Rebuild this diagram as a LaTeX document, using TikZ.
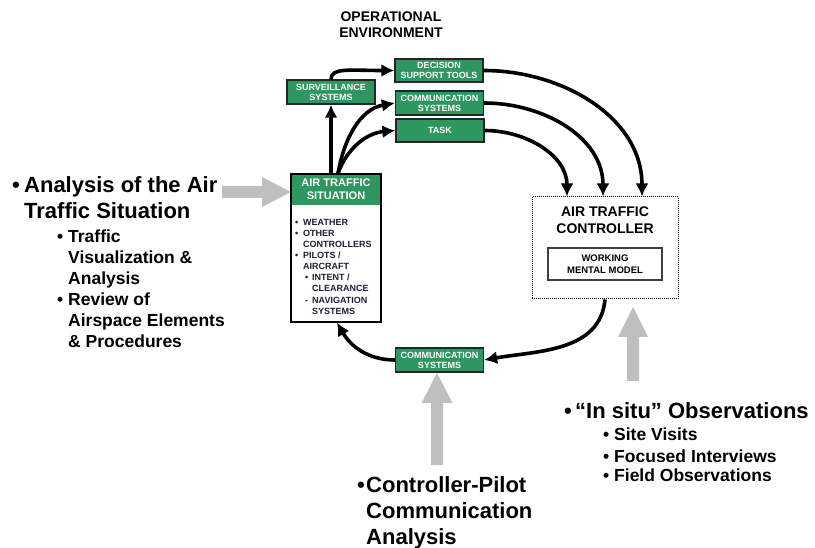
\documentclass[tikz,border=0pt]{standalone}
\usepackage{fontspec}
\setmainfont{Liberation Sans}
\usetikzlibrary{arrows.meta,calc}

\definecolor{boxgreen}{RGB}{46,150,96}
\definecolor{blockgray}{RGB}{191,191,191}
\definecolor{listink}{RGB}{30,30,60}

\tikzset{
  greenbox/.style={draw=black!85, line width=1.3pt, fill=boxgreen, text=white,
    font=\bfseries\fontsize{9}{10}\selectfont, align=center, inner sep=0pt,
    minimum width=88pt, minimum height=23pt},
  flow/.style={line width=3.6pt, -{Latex[length=13pt,width=13pt]}},
  bigtext/.style={anchor=base west, inner sep=0pt, font=\bfseries\fontsize{22}{26}\selectfont},
  subtext/.style={anchor=base west, inner sep=0pt, font=\bfseries\fontsize{17.5}{21}\selectfont},
  titletext/.style={anchor=base, inner sep=0pt, font=\bfseries\fontsize{14}{16}\selectfont},
  blockarrow/.style={fill=blockgray, draw=none},
}

\begin{document}
\begin{tikzpicture}[x=1pt,y=1pt]
\useasboundingbox (0,0) rectangle (815,-548);

% heading
\node[titletext] (title1) at (391,-22) {OPERATIONAL};
\node[titletext] (title2) at (391,-38) {ENVIRONMENT};

% environment boxes
\node[greenbox, minimum height=24pt] (surv) at (331,-92) {SURVEILLANCE\\SYSTEMS};
\node[greenbox] (dst) at (439,-70.5) {DECISION\\SUPPORT TOOLS};
\node[greenbox, minimum height=24pt] (commt) at (439.5,-103) {COMMUNICATION\\SYSTEMS};
\node[greenbox] (task) at (440,-130.5) {TASK};
\node[greenbox, minimum height=24pt] (commb) at (439.5,-360) {COMMUNICATION\\SYSTEMS};

% air traffic situation
\node[fill=boxgreen, minimum width=90pt, minimum height=31pt, inner sep=0pt, text=white,
      font=\bfseries\fontsize{11}{13}\selectfont, align=center] (atshead) at (336,-189.5)
      {AIR TRAFFIC\\SITUATION};
\node[draw=black, line width=1.2pt, minimum width=90pt, minimum height=148pt, inner sep=0pt]
      (ats) at (336,-248) {};
\node[anchor=north west, inner sep=0pt, align=left, text=listink,
      font=\bfseries\fontsize{9}{11.1}\selectfont] (atslist) at (295,-219)
  {\makebox[8pt][l]{•}WEATHER\\
   \makebox[8pt][l]{•}OTHER\\
   \hspace*{8pt}CONTROLLERS\\
   \makebox[8pt][l]{•}PILOTS /\\
   \hspace*{8pt}AIRCRAFT\\
   \hspace*{10pt}\makebox[7pt][l]{•}INTENT /\\
   \hspace*{17pt}CLEARANCE\\
   \hspace*{10pt}\makebox[7pt][l]{-}NAVIGATION\\
   \hspace*{17pt}SYSTEMS};

% air traffic controller
\node[draw=black, line width=1pt, dash pattern=on 1pt off 1pt, minimum width=146pt,
      minimum height=102pt, inner sep=0pt] (atc) at (605,-248) {};
\node[inner sep=0pt, align=center, font=\bfseries\fontsize{14}{17}\selectfont]
      (atctext) at (605,-220.5) {AIR TRAFFIC\\CONTROLLER};
\node[draw=black!75, line width=1.3pt, minimum width=114pt, minimum height=32pt, inner sep=0pt,
      align=center, font=\bfseries\fontsize{9.5}{12}\selectfont] (wmm) at (605,-264)
      {WORKING\\MENTAL MODEL};

% information flow
\draw[flow] (surv.south |- ats.north) -- (surv.south);
\draw[flow] (surv.north) .. controls +(0,12) and +(-45,0) .. (dst.west);
\coordinate (atsout) at ([xshift=2pt]ats.north);
\draw[flow] (atsout) to[out=80,in=190] (commt.west);
\draw[flow] (atsout) to[out=70,in=185] (task.west);
\draw[flow] (dst.east) to[out=0,in=90] ([xshift=37pt]atc.north);
\draw[flow] (commt.east) to[out=0,in=90] ([xshift=-2pt]atc.north);
\draw[flow] (task.east) to[out=0,in=90] ([xshift=-38pt]atc.north);
\draw[flow] (atc.south) to[out=-95,in=10] (commb.east);
\draw[flow] (commb.west) to[out=180,in=-60] ([xshift=1pt]ats.south);

% analysis methods (block arrows)
\coordinate (gl) at (291,-192);
\fill[blockarrow] (gl) -- ++(-29,15) -- ++(0,-9) -- ++(-40,0) -- ++(0,-12) -- ++(40,0) -- ++(0,-9) -- cycle;
\coordinate (gb) at (437,-373);
\fill[blockarrow] (gb) -- ++(-15.5,-30) -- ++(9.5,0) -- ++(0,-62) -- ++(12,0) -- ++(0,62) -- ++(9.5,0) -- cycle;
\coordinate (gr) at (633,-307);
\fill[blockarrow] (gr) -- ++(-15,-30) -- ++(9,0) -- ++(0,-44) -- ++(12,0) -- ++(0,44) -- ++(9,0) -- cycle;

% left list
\node[bigtext] (la1) at (12,-193) {\makebox[12pt][l]{•}Analysis of the Air};
\node[bigtext] (la2) at (24,-219) {Traffic Situation};
\node[subtext] (lb1) at (57,-243) {\makebox[11pt][l]{•}Traffic};
\node[subtext] (lb2) at (68,-264) {Visualization \&};
\node[subtext] (lb3) at (68,-285) {Analysis};
\node[subtext] (lb4) at (57,-306) {\makebox[11pt][l]{•}Review of};
\node[subtext] (lb5) at (68,-327) {Airspace Elements};
\node[subtext] (lb6) at (68,-348) {\& Procedures};

% right list
\node[bigtext] (ra1) at (564,-418) {\makebox[11pt][l]{•}“In situ” Observations};
\node[subtext] (rb1) at (603,-441) {\makebox[11pt][l]{•}Site Visits};
\node[subtext] (rb2) at (603,-462) {\makebox[11pt][l]{•}Focused Interviews};
\node[subtext] (rb3) at (603,-482) {\makebox[11pt][l]{•}Field Observations};

% bottom list
\node[bigtext] (ba1) at (357,-492) {\makebox[9pt][l]{•}Controller-Pilot};
\node[bigtext] (ba2) at (366,-518) {Communication};
\node[bigtext] (ba3) at (366,-544) {Analysis};
\end{tikzpicture}
\end{document}
